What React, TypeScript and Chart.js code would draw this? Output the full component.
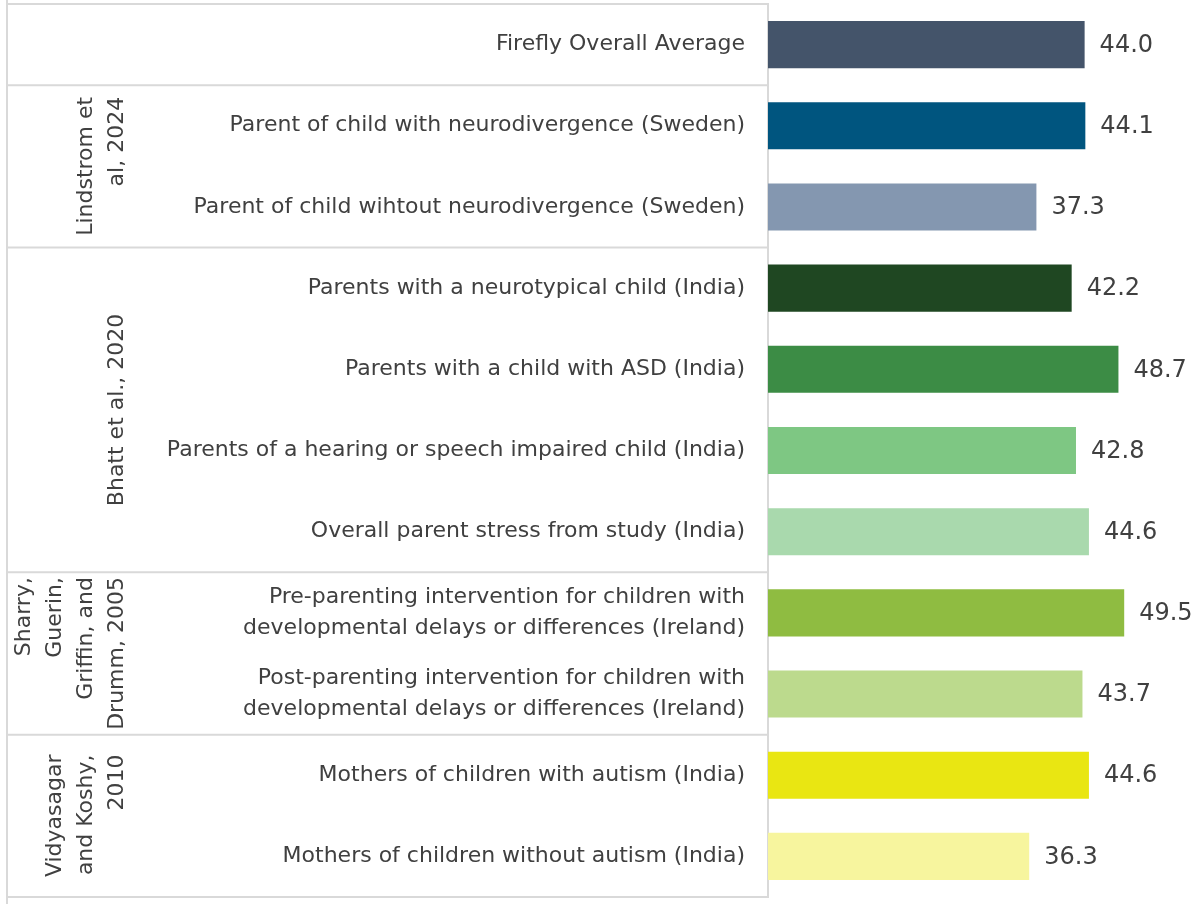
import React, { useEffect, useRef } from "react";
import { Chart, registerables } from "chart.js";

Chart.register(...registerables);

const categories: (string | string[])[] = [
  "Firefly Overall Average",
  "Parent of child with neurodivergence (Sweden)",
  "Parent of child wihtout neurodivergence (Sweden)",
  "Parents with a neurotypical child (India)",
  "Parents with a child with ASD (India)",
  "Parents of a hearing or speech impaired child (India)",
  "Overall parent stress from study (India)",
  ["Pre-parenting intervention for children with", "developmental delays or differences (Ireland)"],
  ["Post-parenting intervention for children with", "developmental delays or differences (Ireland)"],
  "Mothers of children with autism (India)",
  "Mothers of children without autism (India)",
];

const values = [44.0, 44.1, 37.3, 42.2, 48.7, 42.8, 44.6, 49.5, 43.7, 44.6, 36.3];

const barColors = [
  "#44546A",
  "#00557F",
  "#8497B0",
  "#1F4722",
  "#3C8C45",
  "#7EC783",
  "#A9D9AD",
  "#8FBC41",
  "#BCDA8D",
  "#E9E612",
  "#F7F59E",
];

const groupLabels: string[][] = [
  [],
  ["Lindstrom et", "al, 2024"],
  ["Bhatt et al., 2020"],
  ["Sharry,", "Guerin,", "Griffin, and", "Drumm, 2005"],
  ["Vidyasagar", "and Koshy,", "2010"],
];
const groupSizes = [1, 2, 4, 2, 2];

const FONT = "'DejaVu Sans', sans-serif";
const TEXT = "#404040";
const LINE = "#d9d9d9";

const groupPlugin = {
  id: "groupPlugin",
  afterDraw(chart: any) {
    const ctx = chart.ctx;
    const area = chart.chartArea;
    const n = categories.length;
    const step = (area.bottom - area.top) / n;
    const yScale = chart.scales.y;
    ctx.save();
    ctx.strokeStyle = LINE;
    ctx.lineWidth = 2;
    ctx.beginPath();
    ctx.moveTo(7, 0);
    ctx.lineTo(7, chart.height);
    ctx.stroke();
    let idx = 0;
    const bounds: number[] = [];
    for (let g = 0; g < groupSizes.length; g++) {
      const top = yScale.getPixelForValue(idx) - step / 2;
      const bottom = yScale.getPixelForValue(idx + groupSizes[g] - 1) + step / 2;
      bounds.push(top);
      if (g === groupSizes.length - 1) bounds.push(bottom);
      const lines = groupLabels[g];
      if (lines.length) {
        ctx.font = `22px ${FONT}`;
        ctx.fillStyle = TEXT;
        ctx.textAlign = "right";
        ctx.textBaseline = "middle";
        const maxW = Math.max(...lines.map((l) => ctx.measureText(l).width));
        const cy = (top + bottom) / 2;
        const lastX = 117;
        const lh = 31;
        ctx.save();
        ctx.translate(0, cy);
        ctx.rotate(-Math.PI / 2);
        lines.forEach((l, i) => {
          const sx = lastX - (lines.length - 1 - i) * lh;
          ctx.fillText(l, maxW / 2, sx);
        });
        ctx.restore();
      }
      idx += groupSizes[g];
    }
    bounds.forEach((b) => {
      ctx.beginPath();
      ctx.moveTo(7, b);
      ctx.lineTo(area.left, b);
      ctx.stroke();
    });
    ctx.restore();
  },
  afterDatasetsDraw(chart: any) {
    const ctx = chart.ctx;
    const meta = chart.getDatasetMeta(0);
    ctx.save();
    ctx.font = `24px ${FONT}`;
    ctx.fillStyle = TEXT;
    ctx.textAlign = "left";
    ctx.textBaseline = "middle";
    meta.data.forEach((bar: any, i: number) => {
      ctx.fillText(values[i].toFixed(1), bar.x + 15, bar.y + 1);
    });
    ctx.restore();
  },
};

export default function App() {
  const ref = useRef<HTMLCanvasElement>(null);
  useEffect(() => {
    document.body.style.margin = "0";
    const chart = new Chart(ref.current!, {
      type: "bar",
      data: {
        labels: categories,
        datasets: [
          {
            data: values,
            backgroundColor: barColors,
            barPercentage: 0.58,
            categoryPercentage: 1,
            borderWidth: 0,
          },
        ],
      },
      options: {
        indexAxis: "y",
        animation: false,
        responsive: true,
        maintainAspectRatio: false,
        layout: { padding: { top: 4, bottom: 7, left: 0, right: 0 } },
        plugins: { legend: { display: false }, tooltip: { enabled: false } },
        scales: {
          x: { display: false, min: 0, max: 59.2 },
          y: {
            afterFit: (scale: any) => {
              scale.width = 768;
              scale.paddingTop = 0;
              scale.paddingBottom = 0;
            },
            grid: { display: false, drawTicks: false },
            border: { display: true, color: LINE, width: 2 },
            ticks: {
              color: TEXT,
              padding: 23,
              font: { family: FONT, size: 22, lineHeight: 31 / 22 },
            },
          },
        },
      },
      plugins: [groupPlugin],
    });
    return () => chart.destroy();
  }, []);
  return (
    <div style={{ width: 1194, height: 904, position: "relative" }}>
      <canvas ref={ref} />
    </div>
  );
}
